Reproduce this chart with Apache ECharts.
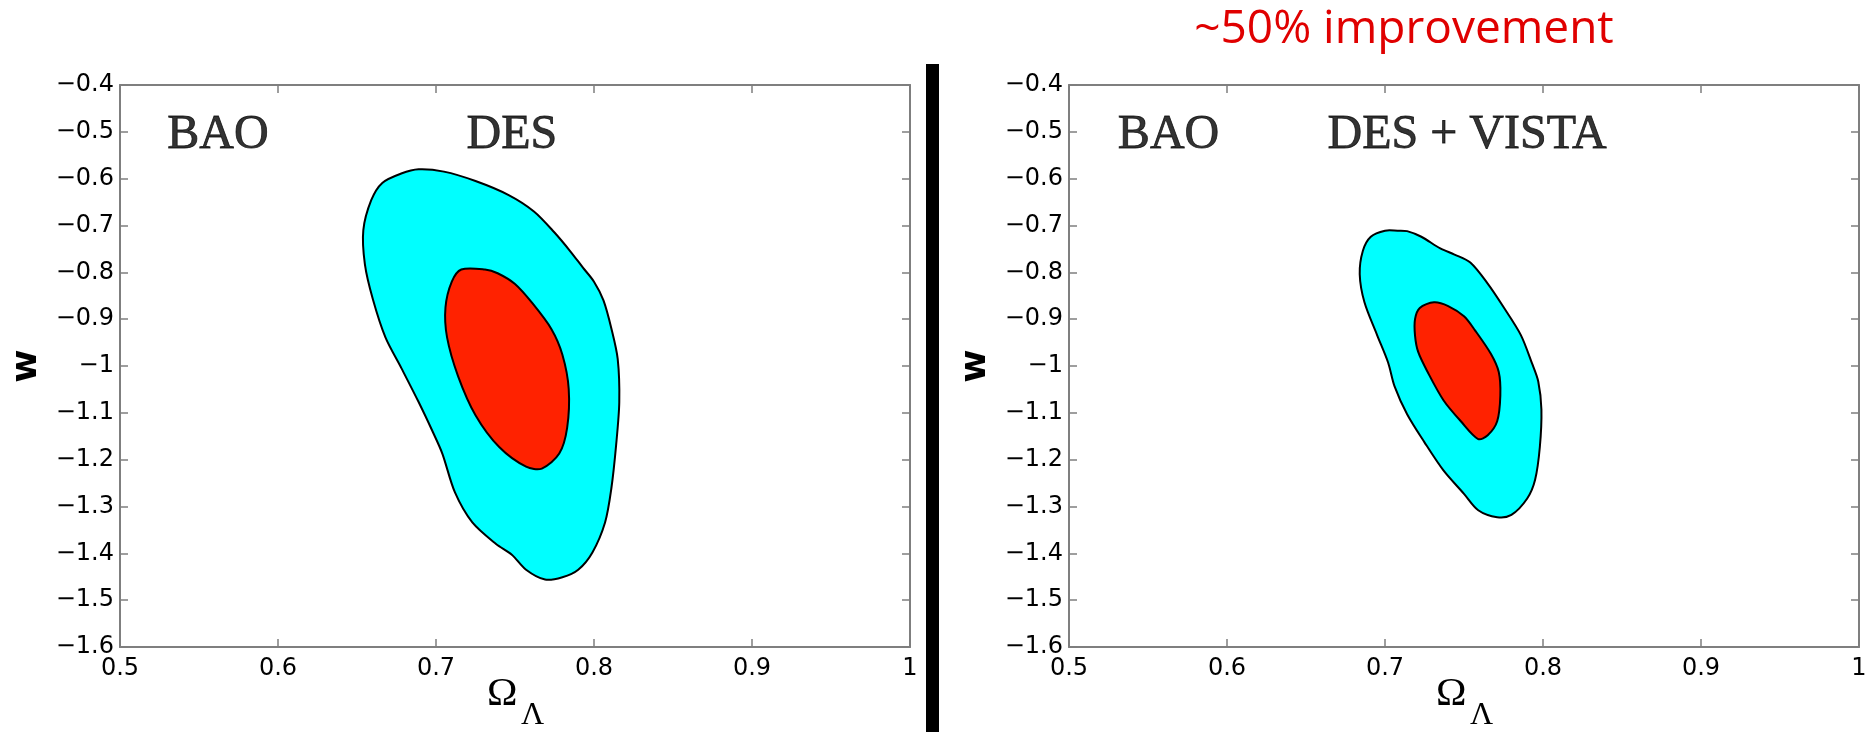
<!DOCTYPE html>
<html>
<head>
<meta charset="utf-8">
<script src="https://cdn.jsdelivr.net/npm/echarts@6/dist/echarts.min.js"></script>
<style>
html,body{margin:0;padding:0;background:#fff;}
#main{width:1871px;height:732px;}
</style>
</head>
<body>
<div id="main"></div>
<script>
// ---- data ----
const xTicks = [0.5, 0.6, 0.7, 0.8, 0.9, 1];
const yTicks = [-0.4, -0.5, -0.6, -0.7, -0.8, -0.9, -1, -1.1, -1.2, -1.3, -1.4, -1.5, -1.6];

// DES: 2-sigma (outer, cyan) and 1-sigma (inner, red) contours [Omega_Lambda, w]
const desOuter = [
  [0.689,-0.580],[0.678,-0.589],[0.666,-0.609],[0.659,-0.646],[0.654,-0.710],[0.655,-0.783],
  [0.660,-0.857],[0.668,-0.939],[0.678,-1.004],[0.689,-1.077],[0.698,-1.141],[0.704,-1.187],
  [0.712,-1.270],[0.723,-1.334],[0.738,-1.380],[0.748,-1.403],[0.757,-1.435],[0.769,-1.456],
  [0.780,-1.451],[0.790,-1.435],[0.799,-1.398],[0.807,-1.334],[0.811,-1.261],[0.814,-1.169],
  [0.816,-1.077],[0.815,-0.985],[0.811,-0.920],[0.806,-0.860],[0.800,-0.820],[0.793,-0.790],
  [0.785,-0.755],[0.775,-0.715],[0.762,-0.670],[0.746,-0.635],[0.725,-0.605],[0.705,-0.585]
];
const desInner = [
  [0.716,-0.794],[0.710,-0.820],[0.706,-0.875],[0.707,-0.939],[0.714,-1.022],[0.725,-1.105],
  [0.740,-1.173],[0.757,-1.215],[0.767,-1.219],[0.778,-1.187],[0.783,-1.132],[0.784,-1.049],
  [0.780,-0.976],[0.773,-0.921],[0.761,-0.866],[0.750,-0.825],[0.739,-0.802],[0.731,-0.794]
];
// DES + VISTA contours
const vistaOuter = [
  [0.700,-0.711],[0.691,-0.724],[0.686,-0.754],[0.684,-0.804],[0.687,-0.864],[0.695,-0.934],
  [0.702,-0.993],[0.706,-1.043],[0.714,-1.103],[0.725,-1.163],[0.737,-1.223],[0.750,-1.273],
  [0.759,-1.308],[0.771,-1.323],[0.780,-1.318],[0.790,-1.283],[0.795,-1.243],[0.798,-1.173],
  [0.799,-1.093],[0.797,-1.033],[0.793,-0.994],[0.786,-0.934],[0.775,-0.874],[0.765,-0.824],
  [0.754,-0.779],[0.744,-0.762],[0.735,-0.749],[0.723,-0.724],[0.714,-0.712],[0.708,-0.711]
];
const vistaInner = [
  [0.731,-0.864],[0.722,-0.876],[0.719,-0.900],[0.719,-0.935],[0.721,-0.970],[0.727,-1.013],
  [0.737,-1.073],[0.748,-1.118],[0.759,-1.156],[0.765,-1.148],[0.771,-1.118],[0.773,-1.063],
  [0.772,-1.013],[0.767,-0.974],[0.757,-0.924],[0.750,-0.894],[0.740,-0.872]
];

// annotation texts: [x, w, text]
const leftNotes = [[0.562, -0.5, 'BAO'], [0.748, -0.5, 'DES']];
const rightNotes = [[0.563, -0.5, 'BAO'], [0.752, -0.5, 'DES + VISTA']];

const titleText = '~50% improvement';
const xNameMain = 'Ω';
const xNameSub = 'Λ';
const yName = 'w';

// ---- layout & styles ----
const GRID_TOP = 85, GRID_H = 562, GRID_W = 790;
const GRID_LEFTS = [120, 1069];
const CYAN = '#00FFFF';
const RED = '#FF2200';
const AXIS_GRAY = '#7f7f7f';
const tickFont = 'DejaVu Sans';
const minus = v => String(v).replace('-', '\u2212');

const xMin = Math.min(...xTicks), xMax = Math.max(...xTicks);
const yMin = Math.min(...yTicks), yMax = Math.max(...yTicks);

function xAxisPair(gi) {
  return [
    {
      type: 'value', gridIndex: gi, position: 'bottom', min: xMin, max: xMax, interval: 0.1,
      axisLine: {show: true, lineStyle: {color: AXIS_GRAY, width: 2}},
      axisTick: {show: true, inside: true, length: 8, lineStyle: {color: AXIS_GRAY, width: 1.5}},
      axisLabel: {show: true, margin: 10, color: '#000', fontFamily: tickFont, fontSize: 24, formatter: minus},
      splitLine: {show: false}
    },
    {
      type: 'value', gridIndex: gi, position: 'top', min: xMin, max: xMax, interval: 0.1,
      axisLine: {show: true, lineStyle: {color: AXIS_GRAY, width: 2}},
      axisTick: {show: true, inside: true, length: 8, lineStyle: {color: AXIS_GRAY, width: 1.5}},
      axisLabel: {show: false}, splitLine: {show: false}
    }
  ];
}
function yAxisPair(gi) {
  return [
    {
      type: 'value', gridIndex: gi, position: 'left', min: yMin, max: yMax, interval: 0.1,
      axisLine: {show: true, lineStyle: {color: AXIS_GRAY, width: 2}},
      axisTick: {show: true, inside: true, length: 8, lineStyle: {color: AXIS_GRAY, width: 1.5}},
      axisLabel: {show: true, margin: 6, color: '#000', fontFamily: tickFont, fontSize: 24, formatter: minus},
      splitLine: {show: false},
      name: yName, nameLocation: 'middle', nameGap: 75, nameRotate: 90,
      nameTextStyle: {fontFamily: 'DejaVu Sans', fontWeight: 'bold', fontSize: 36, color: '#000'}
    },
    {
      type: 'value', gridIndex: gi, position: 'right', min: yMin, max: yMax, interval: 0.1,
      axisLine: {show: true, lineStyle: {color: AXIS_GRAY, width: 2}},
      axisTick: {show: true, inside: true, length: 8, lineStyle: {color: AXIS_GRAY, width: 1.5}},
      axisLabel: {show: false}, splitLine: {show: false}
    }
  ];
}

function contour(points, fill, xi, yi) {
  return {
    type: 'custom', xAxisIndex: xi, yAxisIndex: yi, data: points,
    encode: {x: 0, y: 1}, silent: true, z: fill === RED ? 4 : 3,
    renderItem: function (params, api) {
      if (params.dataIndex !== 0) return null;
      const pts = points.map(p => api.coord(p));
      return {
        type: 'polygon',
        shape: {points: pts, smooth: 0.3},
        style: {fill: fill, stroke: '#000', lineWidth: 2}
      };
    }
  };
}
function notes(items, xi, yi) {
  return {
    type: 'scatter', xAxisIndex: xi, yAxisIndex: yi, data: items, symbolSize: 0, silent: true, z: 5,
    label: {
      show: true, position: 'inside', offset: [0, 4], formatter: p => p.value[2],
      fontFamily: 'Liberation Serif', fontSize: 48, color: '#000',
      textBorderColor: '#000', textBorderWidth: 0.8
    }
  };
}
function xNameGraphics(gridLeft) {
  const cx = gridLeft + GRID_W / 2;
  const base = GRID_TOP + GRID_H;
  return [
    {type: 'text', x: cx - 28, y: base + 27, z: 10,
     style: {text: xNameMain, fontFamily: 'Liberation Serif', fontSize: 41, fill: '#000',
             textAlign: 'left', textVerticalAlign: 'top'}},
    {type: 'text', x: cx + 6, y: base + 53, z: 10,
     style: {text: xNameSub, fontFamily: 'Liberation Serif', fontSize: 32, fill: '#000',
             textAlign: 'left', textVerticalAlign: 'top'}}
  ];
}

const chart = echarts.init(document.getElementById('main'), null, {renderer: 'canvas'});
chart.setOption({
  backgroundColor: '#fff',
  animation: false,
  title: {
    text: titleText, left: 1404, top: 7, textAlign: 'center', padding: 0,
    textStyle: {fontFamily: 'Open Sans', fontWeight: 'normal', fontSize: 46, color: '#E00000'}
  },
  grid: GRID_LEFTS.map(l => ({left: l, top: GRID_TOP, width: GRID_W, height: GRID_H})),
  xAxis: [...xAxisPair(0), ...xAxisPair(1)],
  yAxis: [...yAxisPair(0), ...yAxisPair(1)],
  series: [
    contour(desOuter, CYAN, 0, 0),
    contour(desInner, RED, 0, 0),
    notes(leftNotes, 0, 0),
    contour(vistaOuter, CYAN, 2, 2),
    contour(vistaInner, RED, 2, 2),
    notes(rightNotes, 2, 2)
  ],
  graphic: [
    {type: 'rect', shape: {x: 926, y: 64, width: 13, height: 668}, style: {fill: '#000'}, z: 10},
    ...xNameGraphics(GRID_LEFTS[0]),
    ...xNameGraphics(GRID_LEFTS[1])
  ]
});
</script>
</body>
</html>
